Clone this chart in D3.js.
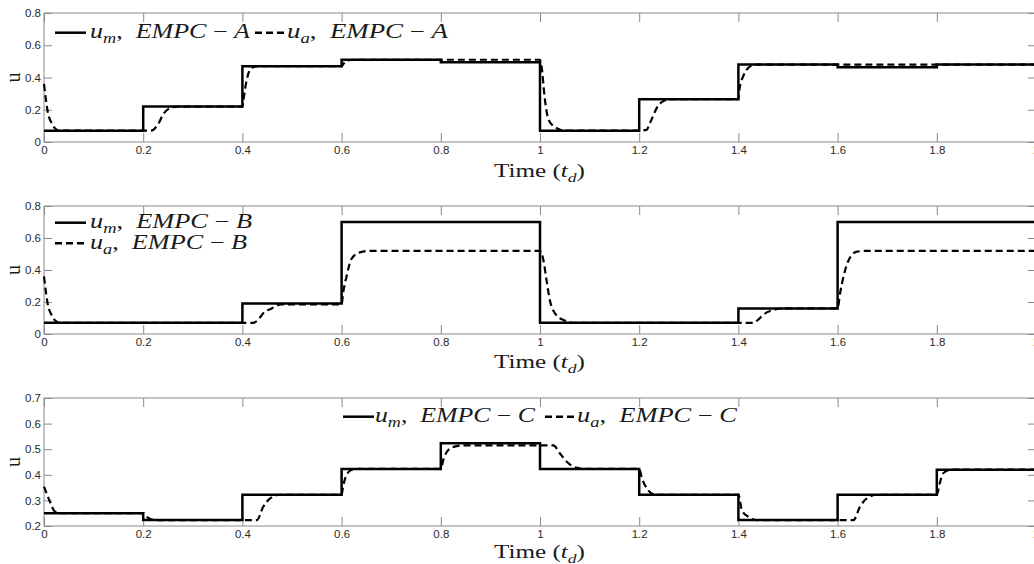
<!DOCTYPE html>
<html>
<head>
<meta charset="utf-8">
<script src="https://cdn.jsdelivr.net/npm/d3@7"></script>
<style>
  body { margin: 0; background: #fff; }
  .tick text { font-family: "Liberation Sans", Arial, sans-serif; font-size: 11.5px; fill: #2a2a2a; }
  .tick line { stroke: #8a8a8a; }
</style>
</head>
<body>
<div id="chart"></div>
<script>
// Step times of the manipulated input u_m (held until the next step).
const stepTimes = [0, 0.2, 0.4, 0.6, 0.8, 1, 1.2, 1.4, 1.6, 1.8, 2];
const xTicks = [0, 0.2, 0.4, 0.6, 0.8, 1, 1.2, 1.4, 1.6, 1.8, 2];

// u_m values per interval (last value repeated to close the step at t = 2)
const umA = [0.07, 0.22, 0.47, 0.51, 0.495, 0.07, 0.265, 0.48, 0.463, 0.48, 0.48];
const umB = [0.07, 0.07, 0.19, 0.70, 0.70, 0.07, 0.07, 0.16, 0.70, 0.70, 0.70];
const umC = [0.25, 0.223, 0.322, 0.423, 0.523, 0.423, 0.322, 0.223, 0.322, 0.42, 0.42];

const uaA = [
  [0, 0.36], [0.008, 0.18], [0.015, 0.12], [0.022, 0.085], [0.032, 0.07],
  [0.2, 0.07], [0.215, 0.07], [0.23, 0.11], [0.24, 0.17], [0.254, 0.21], [0.27, 0.22],
  [0.4, 0.22], [0.402, 0.26], [0.409, 0.39], [0.419, 0.46], [0.432, 0.47],
  [0.6, 0.47], [0.605, 0.49], [0.612, 0.505], [0.625, 0.51],
  [0.8, 0.51], [1.0, 0.51], [1.003, 0.47], [1.01, 0.26], [1.017, 0.14], [1.034, 0.085], [1.05, 0.07],
  [1.2, 0.07], [1.215, 0.075], [1.222, 0.12], [1.242, 0.24], [1.262, 0.265],
  [1.4, 0.265], [1.402, 0.325], [1.41, 0.41], [1.42, 0.46], [1.435, 0.48],
  [2.0, 0.48]
];
const uaB = [
  [0, 0.36], [0.008, 0.18], [0.015, 0.12], [0.022, 0.085], [0.032, 0.07],
  [0.4, 0.07], [0.422, 0.07], [0.432, 0.09], [0.442, 0.13], [0.459, 0.16], [0.478, 0.185],
  [0.6, 0.185], [0.603, 0.255], [0.61, 0.36], [0.62, 0.47], [0.637, 0.51], [0.66, 0.52],
  [1.0, 0.52], [1.007, 0.46], [1.013, 0.34], [1.02, 0.21], [1.03, 0.13], [1.047, 0.0875], [1.07, 0.07],
  [1.4, 0.07], [1.43, 0.07], [1.44, 0.09], [1.45, 0.12], [1.47, 0.15], [1.49, 0.16],
  [1.6, 0.16], [1.605, 0.255], [1.612, 0.36], [1.622, 0.46], [1.639, 0.515], [1.66, 0.52],
  [2.0, 0.52]
];
const uaC = [
  [0, 0.354], [0.012, 0.295], [0.022, 0.256], [0.032, 0.25],
  [0.2, 0.25], [0.207, 0.236], [0.225, 0.223],
  [0.4, 0.223], [0.429, 0.223], [0.442, 0.275], [0.456, 0.308], [0.475, 0.322],
  [0.6, 0.322], [0.603, 0.354], [0.61, 0.40], [0.62, 0.419], [0.635, 0.423],
  [0.8, 0.423], [0.805, 0.458], [0.815, 0.497], [0.832, 0.512], [0.85, 0.515],
  [1.027, 0.515], [1.04, 0.484], [1.054, 0.451], [1.071, 0.429], [1.09, 0.423],
  [1.2, 0.423], [1.205, 0.39], [1.218, 0.34], [1.232, 0.322],
  [1.4, 0.322], [1.407, 0.262], [1.42, 0.236], [1.437, 0.223],
  [1.6, 0.223], [1.632, 0.223], [1.645, 0.275], [1.659, 0.308], [1.68, 0.322],
  [1.8, 0.322], [1.806, 0.367], [1.813, 0.406], [1.83, 0.42],
  [2.0, 0.42]
];

const yTicksAB = [0, 0.2, 0.4, 0.6, 0.8];
const yTicksC = [0.2, 0.3, 0.4, 0.5, 0.6, 0.7];

const width = 1034;
const height = 564;
const marginLeft = 44;
const plotRight = 1036; // the right border of the original figure is just off-screen

const svg = d3
  .create("svg")
  .attr("width", width)
  .attr("height", height)
  .attr("viewBox", [0, 0, width, height]);

svg.append("rect").attr("width", width).attr("height", height).attr("fill", "#fff");

const x = d3.scaleLinear().domain([0, 2]).range([marginLeft, plotRight]);
const fmt = (d) => String(+d.toFixed(1));

// Write a LaTeX-ish math string made of parts; stretch to the measured width.
function mathText(g, xPos, yPos, parts, size, targetWidth) {
  const t = g
    .append("text")
    .attr("x", xPos)
    .attr("y", yPos)
    .attr("font-family", '"Liberation Serif", "DejaVu Serif", serif')
    .attr("font-size", size)
    .attr("fill", "#1a1a1a");
  parts.forEach((p) => {
    const s = t.append("tspan").text(p.t);
    if (p.italic) s.attr("font-style", "italic");
    if (p.sub) s.attr("font-size", size * 0.7).attr("dy", size * 0.25);
    if (p.back) s.attr("dy", -size * 0.25);
  });
  if (targetWidth) t.attr("textLength", targetWidth).attr("lengthAdjust", "spacingAndGlyphs");
  return t;
}

function legendLabel(sub, letter) {
  return [
    { t: "u", italic: true },
    { t: sub, italic: true, sub: true },
    { t: ",\u00a0\u00a0", back: true },
    { t: "EMPC", italic: true },
    { t: " \u2212 " },
    { t: letter, italic: true },
  ];
}

function drawPanel(opts) {
  const { top, bottom, yDomain, yTicks, um, ua, legend, timeY } = opts;
  const y = d3.scaleLinear().domain(yDomain).range([bottom, top]);
  const g = svg.append("g");

  // inward ticks on all four sides
  g.append("g")
    .attr("transform", `translate(0,${bottom})`)
    .call(d3.axisBottom(x).tickValues(xTicks).tickFormat(fmt).tickSize(-9).tickPadding(4))
    .call((a) => a.select(".domain").remove());
  g.append("g")
    .attr("transform", `translate(0,${top})`)
    .call(d3.axisTop(x).tickValues(xTicks).tickFormat("").tickSize(-9))
    .call((a) => a.select(".domain").remove());
  g.append("g")
    .attr("transform", `translate(${marginLeft},0)`)
    .call(d3.axisLeft(y).tickValues(yTicks).tickFormat(fmt).tickSize(-8).tickPadding(3))
    .call((a) => a.select(".domain").remove());
  g.append("g")
    .attr("transform", `translate(${plotRight},0)`)
    .call(d3.axisRight(y).tickValues(yTicks).tickFormat("").tickSize(-8))
    .call((a) => a.select(".domain").remove());

  // frame
  g.append("rect")
    .attr("x", marginLeft)
    .attr("y", top)
    .attr("width", plotRight - marginLeft)
    .attr("height", bottom - top)
    .attr("fill", "none")
    .attr("stroke", "#8a8a8a")
    .attr("stroke-width", 1);

  // u_a dashed, smooth
  const uaLine = d3
    .line()
    .x((d) => x(d[0]))
    .y((d) => y(d[1]))
    .curve(d3.curveMonotoneX);
  g.append("path")
    .datum(ua)
    .attr("fill", "none")
    .attr("stroke", "#000")
    .attr("stroke-width", 2.2)
    .attr("stroke-dasharray", "7,4")
    .attr("d", uaLine);

  // u_m solid, piecewise constant
  const umLine = d3
    .line()
    .x((d, i) => x(stepTimes[i]))
    .y((d) => y(d))
    .curve(d3.curveStepAfter);
  g.append("path")
    .datum(um)
    .attr("fill", "none")
    .attr("stroke", "#000")
    .attr("stroke-width", 2.5)
    .attr("d", umLine);

  // y label
  g.append("text")
    .attr("transform", `translate(20,${(top + bottom) / 2}) rotate(-90)`)
    .attr("text-anchor", "middle")
    .attr("font-family", '"Liberation Serif", serif')
    .attr("font-size", 20)
    .attr("fill", "#1a1a1a")
    .text("u");

  // x label
  mathText(
    g,
    494,
    timeY,
    [
      { t: "Time (" },
      { t: "t", italic: true },
      { t: "d", italic: true, sub: true },
      { t: ")", back: true },
    ],
    18,
    91,
  );

  // legend
  legend.forEach((item) => {
    g.append("line")
      .attr("x1", item.lx)
      .attr("x2", item.lx + 31)
      .attr("y1", item.ly)
      .attr("y2", item.ly)
      .attr("stroke", "#000")
      .attr("stroke-width", 2.5)
      .attr("stroke-dasharray", item.dashed ? "7,4" : null);
    mathText(g, item.tx, item.ly + 5.5, legendLabel(item.sub, item.letter), 20, item.tw);
  });
}

drawPanel({
  top: 13,
  bottom: 142,
  yDomain: [0, 0.8],
  yTicks: yTicksAB,
  um: umA,
  ua: uaA,
  timeY: 177,
  legend: [
    { lx: 55, ly: 32.7, tx: 90, tw: 160, sub: "m", letter: "A", dashed: false },
    { lx: 255, ly: 32.7, tx: 287, tw: 161, sub: "a", letter: "A", dashed: true },
  ],
});

drawPanel({
  top: 206,
  bottom: 334,
  yDomain: [0, 0.8],
  yTicks: yTicksAB,
  um: umB,
  ua: uaB,
  timeY: 368,
  legend: [
    { lx: 55, ly: 222.7, tx: 90, tw: 162, sub: "m", letter: "B", dashed: false },
    { lx: 55, ly: 243.3, tx: 90, tw: 157, sub: "a", letter: "B", dashed: true },
  ],
});

drawPanel({
  top: 398,
  bottom: 526,
  yDomain: [0.2, 0.7],
  yTicks: yTicksC,
  um: umC,
  ua: uaC,
  timeY: 558,
  legend: [
    { lx: 343, ly: 416.7, tx: 375, tw: 160, sub: "m", letter: "C", dashed: false },
    { lx: 545, ly: 416.7, tx: 577, tw: 160, sub: "a", letter: "C", dashed: true },
  ],
});

document.getElementById("chart").appendChild(svg.node());
</script>
</body>
</html>
